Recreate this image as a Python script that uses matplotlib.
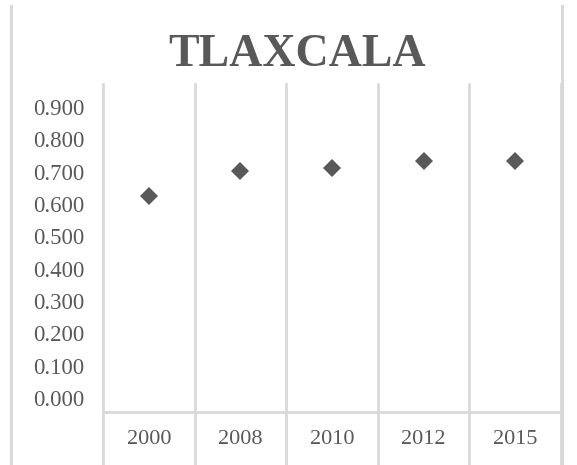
import matplotlib
matplotlib.use("Agg")
import matplotlib.pyplot as plt
from matplotlib.lines import Line2D

# Tlaxcala index by year
years = ["2000", "2008", "2010", "2012", "2015"]
values = [0.625, 0.702, 0.711, 0.733, 0.733]
y_ticks = [0.0, 0.1, 0.2, 0.3, 0.4, 0.5, 0.6, 0.7, 0.8, 0.9]

W, H = 577, 465
grid_col = "#d9d9d9"
text_col = "#595959"
plt.rcParams["font.family"] = ["Liberation Serif", "DejaVu Serif"]

fig = plt.figure(figsize=(W / 100, H / 100), dpi=100)
fig.patch.set_facecolor("white")

# plot area in pixel terms: x 103..561, y 84..412
left, right, top, bottom = 103, 561, 84, 412
ax = fig.add_axes([left / W, (H - bottom) / H, (right - left) / W, (bottom - top) / H])

x = list(range(len(years)))
ax.plot(x, values, linestyle="none", marker="D", markersize=9.3,
        color=text_col, markeredgewidth=0, zorder=5)

ax.set_xlim(-0.5, len(years) - 0.5)
ax.set_ylim(-0.043, 0.971)

for s in ax.spines.values():
    s.set_visible(False)

# category separators run down through the label row
for b in [i - 0.5 for i in range(len(years) + 1)]:
    ax.axvline(b, ymin=-0.17, ymax=1.0, color=grid_col, lw=2, clip_on=False, zorder=1)
ax.axhline(-0.043, color=grid_col, lw=2, zorder=1, clip_on=False)

ax.set_yticks(y_ticks)
ax.set_yticklabels([f"{v:.3f}" for v in y_ticks])
ax.set_xticks(x)
ax.set_xticklabels(years)
ax.tick_params(axis="y", length=0, pad=13.5, labelsize=16.5, labelcolor=text_col)
ax.tick_params(axis="x", length=0, pad=13, labelsize=16, labelcolor=text_col)

# outer chart border, left and right edges
fig.add_artist(Line2D([11 / W, 11 / W], [0, 1 - 6 / H], color=grid_col, lw=2.2))
fig.add_artist(Line2D([562 / W, 562 / W], [0, 1 - 6 / H], color=grid_col, lw=2.2))

fig.text(297 / W, 1 - 55 / H, "TLAXCALA", ha="center", va="center",
         fontsize=33, fontweight="bold", color=text_col)

fig.savefig("out.png", dpi=100)
